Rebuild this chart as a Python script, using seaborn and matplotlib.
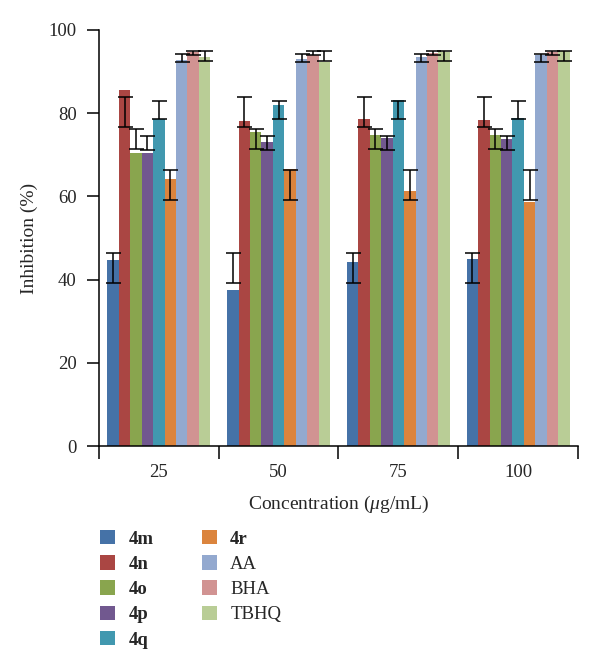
import numpy as np
import pandas as pd
import seaborn as sns
from matplotlib import pyplot as plt
from matplotlib.patches import Patch

# Data
concentrations = ["25", "50", "75", "100"]
compounds = ["4m", "4n", "4o", "4p", "4q", "4r", "AA", "BHA", "TBHQ"]
inhibition = {
    "4m": [44.7, 37.5, 44.2, 45.0],
    "4n": [85.5, 78.1, 78.7, 78.4],
    "4o": [70.4, 75.5, 74.7, 74.7],
    "4p": [70.4, 73.1, 74.1, 73.9],
    "4q": [78.6, 81.9, 83.2, 78.9],
    "4r": [64.2, 66.7, 61.3, 58.6],
    "AA": [92.8, 93.1, 93.6, 94.1],
    "BHA": [94.6, 94.1, 94.4, 94.7],
    "TBHQ": [93.6, 92.3, 94.7, 95.0],
}
# error bar ends (same in every concentration group in the original)
err_top = [46.4, 83.9, 76.3, 74.4, 83.0, 66.3, 94.2, 94.9, 95.0]
err_bottom = [39.2, 76.7, 71.5, 71.2, 78.6, 59.1, 92.2, 94.1, 92.6]

colors = ["#4572A7", "#AA4643", "#89A54E", "#71588F", "#4198AF",
          "#DB843D", "#93A9CF", "#D19392", "#B9CD96"]

rows = []
for c in compounds:
    for conc, v in zip(concentrations, inhibition[c]):
        rows.append({"conc": conc, "compound": c, "value": v})
df = pd.DataFrame(rows)

sns.set_style("white")
plt.rcParams["font.family"] = ["Liberation Serif", "DejaVu Serif"]
plt.rcParams["mathtext.fontset"] = "custom"
plt.rcParams["mathtext.rm"] = "Liberation Serif"
plt.rcParams["mathtext.it"] = "Liberation Serif:italic"

fig = plt.figure(figsize=(6, 6.71), dpi=100)
ax = fig.add_axes([0.165, 0.3353, 0.7983, 0.62])

sns.barplot(data=df, x="conc", y="value", hue="compound", hue_order=compounds,
            order=concentrations, palette=colors, saturation=1, width=0.86,
            linewidth=0, edgecolor="none", legend=False, ax=ax)

# error bars, centred between the read ends
bar_containers = list(ax.containers)
for i, cont in enumerate(bar_containers):
    for bar in cont:
        xc = bar.get_x() + bar.get_width() / 2
        mid = (err_top[i] + err_bottom[i]) / 2
        half = (err_top[i] - err_bottom[i]) / 2
        ax.errorbar(xc, mid, yerr=half, fmt="none", ecolor="black",
                    elinewidth=1.1, capsize=5.4, capthick=1.1)

ax.set_xlim(-0.5, 3.5)
ax.set_ylim(0, 100)
ax.set_yticks([0, 20, 40, 60, 80, 100])
ax.set_xticks(range(4))
ax.set_xticklabels(concentrations)
ax.set_xticks(np.arange(-0.5, 4, 1.0), minor=True)
ax.tick_params(axis="x", which="major", length=0, pad=13, labelsize=13.5)
ax.tick_params(axis="x", which="minor", length=9, width=1.1, direction="out",
               bottom=True, color="black")
ax.tick_params(axis="y", length=9, width=1.1, direction="out", left=True,
               pad=7, labelsize=13.5, color="black")

for s in ["top", "right"]:
    ax.spines[s].set_visible(False)
for s in ["left", "bottom"]:
    ax.spines[s].set_color("black")
    ax.spines[s].set_linewidth(1.1)

ax.set_xlabel(r"Concentration ($\mu$g/mL)", fontsize=14, labelpad=9)
ax.set_ylabel("Inhibition (%)", fontsize=14, labelpad=8)

handles = [Patch(facecolor=col, edgecolor="none") for col in colors]
leg = fig.legend(handles, compounds, loc="upper left", bbox_to_anchor=(0.167, 0.21),
                 ncol=2, frameon=False, fontsize=13.5, handlelength=0.8,
                 handleheight=0.8, handletextpad=0.7, labelspacing=0.4,
                 columnspacing=2.6, borderpad=0, borderaxespad=0)
for t in leg.get_texts()[:6]:
    t.set_fontweight("bold")

fig.savefig("out.png", dpi=100)
